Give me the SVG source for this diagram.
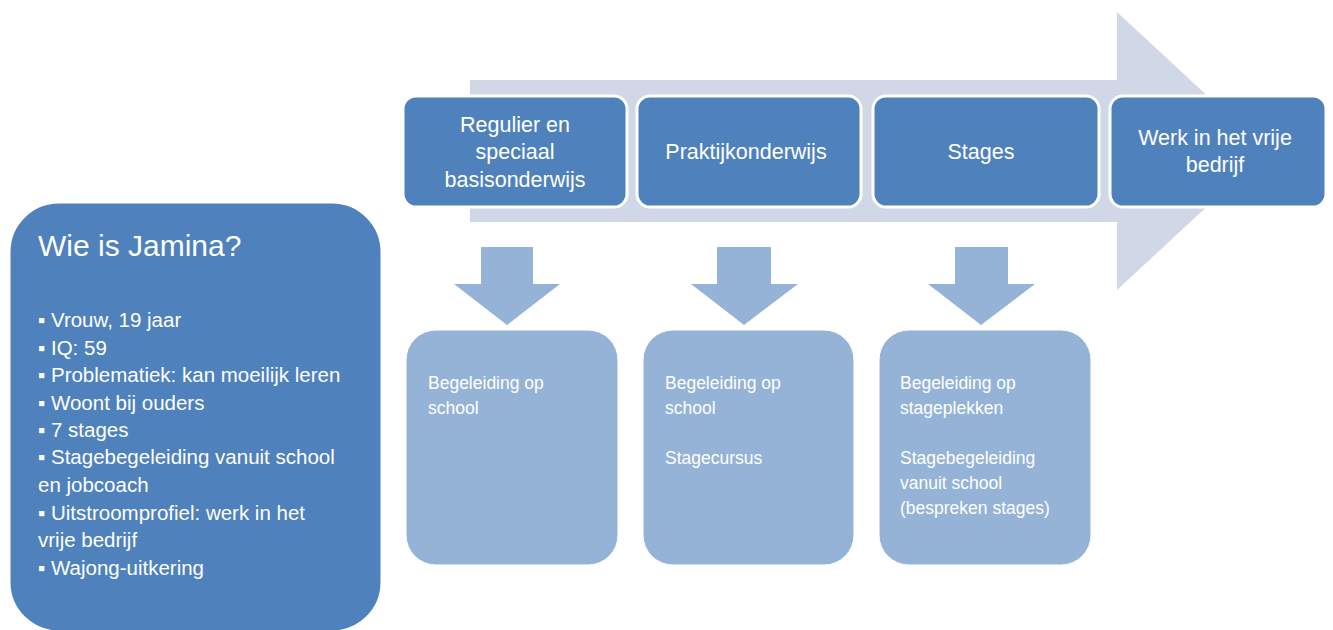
<svg xmlns="http://www.w3.org/2000/svg" width="1333" height="630" viewBox="0 0 1333 630">
<style>
.bg{fill:#D0D8E8}
.dark{fill:#4F81BD;stroke:#FFFFFF;stroke-width:3}
.light{fill:#95B3D7;stroke:#FFFFFF;stroke-width:1}
.down{fill:#95B3D7}
text{font-family:"Liberation Sans",Arial,sans-serif;fill:#FFFFFF}
.top{font-size:21.5px;text-anchor:middle}
.low{font-size:17.5px}
.title{font-size:30px}
.item{font-size:20.5px}
</style>
<rect width="1333" height="630" fill="#FFFFFF"/>
<g id="connectors">
<polygon class="bg" points="470,80 1117,80 1117,12 1267,151 1117,290 1117,222 470,222"/>
<polygon class="down" points="481,247 533,247 533,284 560,284 507,325 454,284 481,284"/>
<polygon class="down" points="717,247 771,247 771,284 798,284 744,325 691,284 717,284"/>
<polygon class="down" points="955,247 1008,247 1008,284 1035,284 981,325 928,284 955,284"/>
</g>
<g id="jamina">
<rect class="dark" x="9" y="202" width="373" height="430" rx="50" stroke-width="0"/>
<text class="title" x="38" y="256">Wie is Jamina?</text>
<text class="item" x="38" y="327">▪ Vrouw, 19 jaar</text>
<text class="item" x="38" y="355">▪ IQ: 59</text>
<text class="item" x="38" y="382">▪ Problematiek: kan moeilijk leren</text>
<text class="item" x="38" y="410">▪ Woont bij ouders</text>
<text class="item" x="38" y="437">▪ 7 stages</text>
<text class="item" x="38" y="464">▪ Stagebegeleiding vanuit school</text>
<text class="item" x="38" y="492">en jobcoach</text>
<text class="item" x="38" y="520">▪ Uitstroomprofiel: werk in het</text>
<text class="item" x="38" y="547">vrije bedrijf</text>
<text class="item" x="38" y="575">▪ Wajong-uitkering</text>
</g>
<g id="step1">
<rect class="dark" x="403" y="96" width="224" height="111" rx="13"/>
<text class="top" x="515" y="132">Regulier  en</text>
<text class="top" x="515" y="159">speciaal</text>
<text class="top" x="515" y="187">basisonderwijs</text>
</g>
<g id="step2">
<rect class="dark" x="637" y="96" width="224" height="111" rx="13"/>
<text class="top" x="746" y="159">Praktijkonderwijs</text>
</g>
<g id="step3">
<rect class="dark" x="873" y="96" width="226" height="111" rx="13"/>
<text class="top" x="981" y="159">Stages</text>
</g>
<g id="step4">
<rect class="dark" x="1110" y="96" width="216" height="111" rx="13"/>
<text class="top" x="1215" y="145">Werk in het vrije</text>
<text class="top" x="1215" y="172">bedrijf</text>
</g>
<g id="sub1">
<rect class="light" x="406" y="330" width="212" height="235" rx="30"/>
<text class="low" x="428" y="389">Begeleiding op</text>
<text class="low" x="428" y="414">school</text>
</g>
<g id="sub2">
<rect class="light" x="643" y="330" width="211" height="235" rx="30"/>
<text class="low" x="665" y="389">Begeleiding op</text>
<text class="low" x="665" y="414">school</text>
<text class="low" x="665" y="464">Stagecursus</text>
</g>
<g id="sub3">
<rect class="light" x="879" y="330" width="212" height="235" rx="30"/>
<text class="low" x="900" y="389">Begeleiding op</text>
<text class="low" x="900" y="414">stageplekken</text>
<text class="low" x="900" y="464">Stagebegeleiding</text>
<text class="low" x="900" y="489">vanuit school</text>
<text class="low" x="900" y="514">(bespreken  stages)</text>
</g>
</svg>
